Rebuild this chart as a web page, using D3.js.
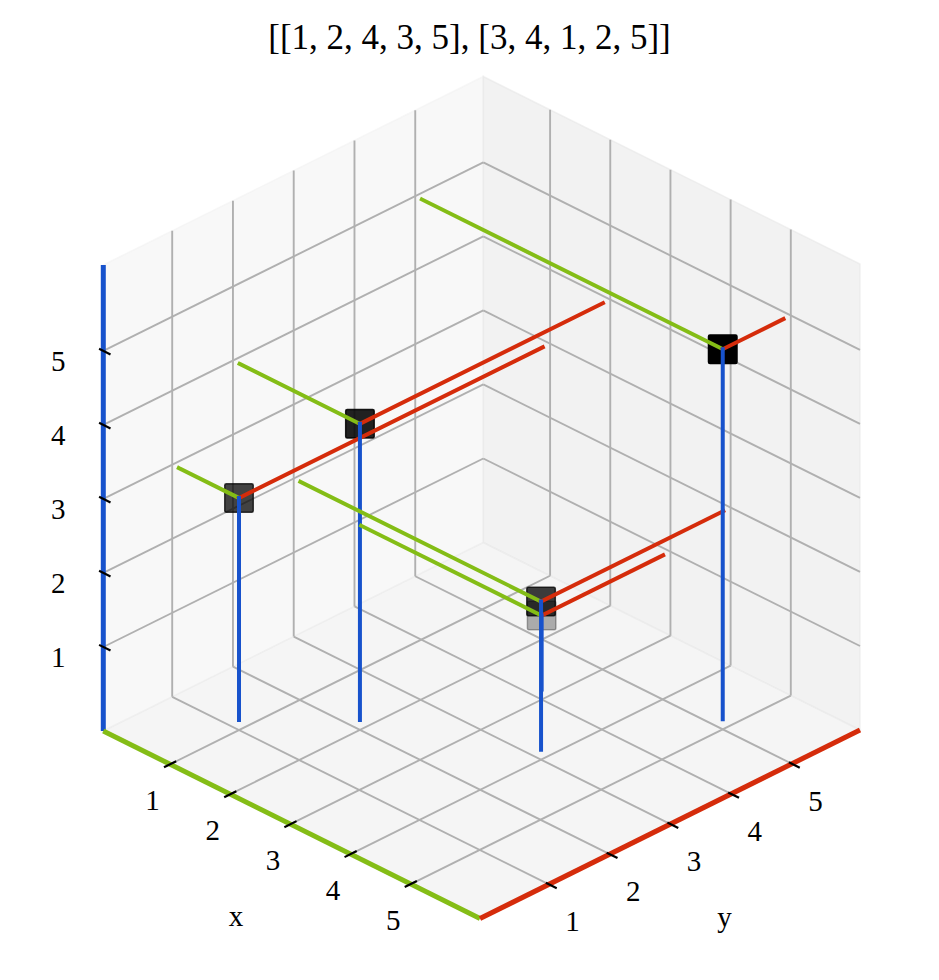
<!DOCTYPE html>
<html>
<head>
<meta charset="utf-8">
<script src="https://cdn.jsdelivr.net/npm/d3@7"></script>
<style>
  body { margin: 0; background: #fff; }
  text { font-family: "Liberation Serif", "DejaVu Serif", serif; fill: #000; }
</style>
</head>
<body>
<div id="chart"></div>
<script>
var w = 939;
var h = 980;

// data: one point per index, x = position, y / z = the two permutations
var title = "[[1, 2, 4, 3, 5], [3, 4, 1, 2, 5]]";
var xVals = [1, 2, 3, 4, 5];
var yVals = [1, 2, 4, 3, 5];
var zVals = [3, 4, 1, 2, 5];
var tickVals = [1, 2, 3, 4, 5];
var tickLabels = ["1", "2", "3", "4", "5"];
// where the guide lines end
var xStart = 0;
var yEnd = 6;
var zBase = 0;

var blue = "#1752cc", green = "#84bd16", red = "#d52c0b";

// each scale gives the fraction along its box edge
var x = d3.scaleLinear().domain([-0.11, 6.15]).range([0, 1]);
var y = d3.scaleLinear().domain([-0.134, 6.12]).range([0, 1]);
var z = d3.scaleLinear().domain([-0.135, 6.16]).range([0, 1]);
var x0 = x.domain()[0], x1 = x.domain()[1];
var y0 = y.domain()[0], y1 = y.domain()[1];
var z0 = z.domain()[0], z1 = z.domain()[1];

// screen edges of the box (elev 30, azim 45 look)
var corner = [103.3, 731];
var vx = [376.7, 187.5], vy = [380, -188.5], vz = [0, -466];

function proj(a, b, c) {
  var u = x(a), v = y(b), t = z(c);
  return [corner[0] + u * vx[0] + v * vy[0] + t * vz[0],
          corner[1] + u * vx[1] + v * vy[1] + t * vz[1]];
}

var line = d3.line();

var svg = d3.select("#chart").append("svg")
  .attr("width", w)
  .attr("height", h);

// panes
var panes = [
  { pts: [[x0, y0, z0], [x0, y1, z0], [x0, y1, z1], [x0, y0, z1]], c: "rgb(242,242,242)" },
  { pts: [[x0, y1, z0], [x1, y1, z0], [x1, y1, z1], [x0, y1, z1]], c: "rgb(230,230,230)" },
  { pts: [[x0, y0, z0], [x1, y0, z0], [x1, y1, z0], [x0, y1, z0]], c: "rgb(236,236,236)" }
];
svg.selectAll(".pane")
  .data(panes)
  .enter().append("path")
  .attr("class", "pane")
  .attr("d", function(d) { return line(d.pts.map(function(p) { return proj(p[0], p[1], p[2]); })) + "Z"; })
  .attr("fill", function(d) { return d.c; })
  .attr("fill-opacity", 0.5)
  .attr("stroke", function(d) { return d.c; })
  .attr("stroke-opacity", 0.5)
  .attr("stroke-width", 1.5);

// grid lines
var grid = [];
tickVals.forEach(function(t) {
  // left wall (x = min)
  grid.push([[x0, t, z0], [x0, t, z1]]);
  grid.push([[x0, y0, t], [x0, y1, t]]);
  // right wall (y = max)
  grid.push([[t, y1, z0], [t, y1, z1]]);
  grid.push([[x0, y1, t], [x1, y1, t]]);
  // floor
  grid.push([[t, y0, z0], [t, y1, z0]]);
  grid.push([[x0, t, z0], [x1, t, z0]]);
});
svg.selectAll(".grid")
  .data(grid)
  .enter().append("path")
  .attr("class", "grid")
  .attr("d", function(d) { return line(d.map(function(p) { return proj(p[0], p[1], p[2]); })); })
  .attr("fill", "none")
  .attr("stroke", "#b0b0b0")
  .attr("stroke-width", 1.9);

// coloured axis lines
var axes = [
  { seg: [[x0, y0, z0], [x0, y0, z1]], c: blue },
  { seg: [[x0, y0, z0], [x1, y0, z0]], c: green },
  { seg: [[x1, y0, z0], [x1, y1, z0]], c: red }
];
svg.selectAll(".axis-line")
  .data(axes)
  .enter().append("path")
  .attr("class", "axis-line")
  .attr("d", function(d) { return line(d.seg.map(function(p) { return proj(p[0], p[1], p[2]); })); })
  .attr("stroke", function(d) { return d.c; })
  .attr("stroke-width", 5)
  .attr("fill", "none");

// ticks
var ticks = [];
tickVals.forEach(function(t) {
  ticks.push([[t, y0 - 0.1, z0], [t, y0 + 0.1, z0]]);
  ticks.push([[x1 - 0.05, t, z0], [x1 + 0.13, t, z0]]);
  ticks.push([[x0 - 0.07, y0, t], [x0 + 0.12, y0, t]]);
});
svg.selectAll(".tick")
  .data(ticks)
  .enter().append("path")
  .attr("class", "tick")
  .attr("d", function(d) { return line(d.map(function(p) { return proj(p[0], p[1], p[2]); })); })
  .attr("stroke", "#000")
  .attr("stroke-width", 2.2);

// tick labels
var labels = svg.append("g").attr("font-size", 29).attr("text-anchor", "middle");
tickVals.forEach(function(t, i) {
  var px = proj(t, y0, z0);
  labels.append("text").attr("x", px[0] - 17.5).attr("y", px[1] + 36)
    .attr("dominant-baseline", "central").text(tickLabels[i]);
  var py = proj(x1, t, z0);
  labels.append("text").attr("x", py[0] + 23.5).attr("y", py[1] + 37)
    .attr("dominant-baseline", "central").text(tickLabels[i]);
  var pz = proj(x0, y0, t);
  labels.append("text").attr("x", pz[0] - 45).attr("y", pz[1] + 10)
    .attr("dominant-baseline", "central").text(tickLabels[i]);
});

// axis titles
var xl = proj(3, y0, z0);
labels.append("text").attr("x", xl[0] - 54.5).attr("y", xl[1] + 102).text("x");
var yl = proj(x1, 3, z0);
labels.append("text").attr("x", yl[0] + 54).attr("y", yl[1] + 103).text("y");

// points, shaded by depth like depthshade
var pts = xVals.map(function(d, i) {
  return { x: d, y: yVals[i], z: zVals[i] };
});
pts.forEach(function(p) { p.depth = 0.612 * (p.x - p.y) + 0.5 * p.z; });
var dExt = d3.extent(pts, function(p) { return p.depth; });
var shade = d3.scaleLinear().domain(dExt).range([0.3, 1]);
pts.sort(function(a, b) { return a.depth - b.depth; });

var sq = 28.5;
svg.selectAll(".pt")
  .data(pts)
  .enter().append("rect")
  .attr("class", "pt")
  .attr("x", function(d) { return proj(d.x, d.y, d.z)[0] - sq / 2; })
  .attr("y", function(d) { return proj(d.x, d.y, d.z)[1] - sq / 2; })
  .attr("width", sq)
  .attr("height", sq)
  .attr("rx", 1.5)
  .attr("fill", "#000")
  .attr("fill-opacity", function(d) { return shade(d.depth); })
  .attr("stroke", "#000")
  .attr("stroke-opacity", function(d) { return shade(d.depth); })
  .attr("stroke-width", 1.5);

// guide lines from each point
var guides = [];
xVals.forEach(function(d, i) {
  guides.push({ seg: [[xStart, yVals[i], zVals[i]], [d, yVals[i], zVals[i]]], c: green });
  guides.push({ seg: [[d, yVals[i], zVals[i]], [d, yEnd, zVals[i]]], c: red });
  guides.push({ seg: [[d, yVals[i], zBase], [d, yVals[i], zVals[i]]], c: blue });
});
svg.selectAll(".guide")
  .data(guides)
  .enter().append("path")
  .attr("class", "guide")
  .attr("d", function(d) { return line(d.seg.map(function(p) { return proj(p[0], p[1], p[2]); })); })
  .attr("stroke", function(d) { return d.c; })
  .attr("stroke-width", 4)
  .attr("stroke-linecap", "square")
  .attr("fill", "none");

// title
svg.append("text")
  .attr("x", 469.5)
  .attr("y", 49)
  .attr("text-anchor", "middle")
  .attr("font-size", 35)
  .text(title);
</script>
</body>
</html>
